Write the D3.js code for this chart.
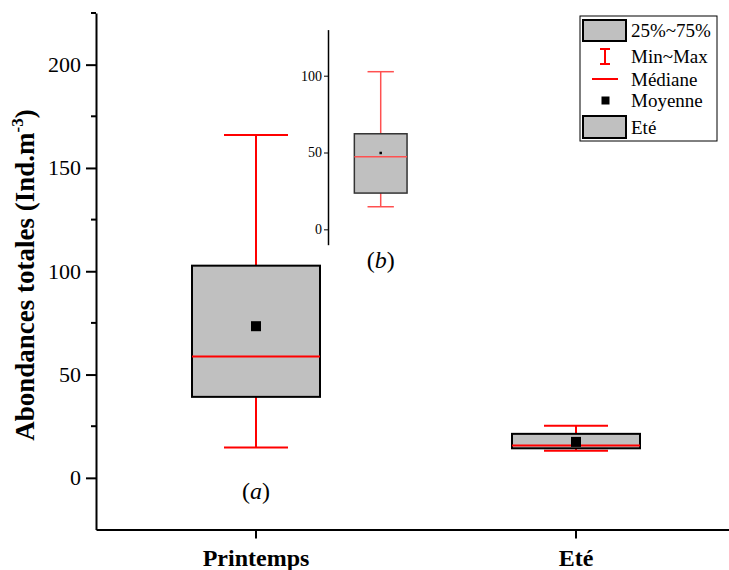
<!DOCTYPE html>
<html>
<head>
<meta charset="utf-8">
<script src="https://cdn.jsdelivr.net/npm/d3@7"></script>
<style>
  html, body { margin: 0; padding: 0; background: #fff; }
  svg { display: block; }
  svg text { font-family: "Liberation Serif", "Times New Roman", serif; }
</style>
</head>
<body>
<svg id="chart" width="729" height="570"></svg>
<script>
// Seasonal box statistics (Ind.m-3)
const categories = ["Printemps", "Eté"];
const minVals    = [14.7, 13.1];
const q1Vals     = [39.2, 14.3];
const medianVals = [58.7, 15.7];
const q3Vals     = [102.7, 21.3];
const maxVals    = [166.0, 25.2];
const meanVals   = [73.4, 17.4];

// Inset box (b)
const insetCategories = ["Eté"];
const insetMin    = [14.7];
const insetQ1     = [23.6];
const insetMedian = [47.3];
const insetQ3     = [62.2];
const insetMax    = [102.6];
const insetMean   = [49.7];

const yMajorTicks = [0, 50, 100, 150, 200];
const yMinorTicks = [25, 75, 125, 175, 225];
const insetTicks  = [0, 50, 100];

const legendLabels = ["25%~75%", "Min~Max", "Médiane", "Moyenne", "Eté"];

const svg = d3.select("#chart");
const FILL = "#c0c0c0";
const RED = "#ff0000";
const SERIF = "Liberation Serif";

// ---------- main panel ----------
const x = d3.scaleBand().domain(categories).range([96, 736]).padding(0);
const y = d3.scaleLinear().domain([-25, 225]).range([529.5, 13]);

const boxes = categories.map((c, i) => ({
  cat: c, min: minVals[i], q1: q1Vals[i], med: medianVals[i],
  q3: q3Vals[i], max: maxVals[i], mean: meanVals[i]
}));

function drawBoxes(g, data, xs, ys, opt) {
  const bw = xs.bandwidth() * opt.boxFrac;
  const cw = xs.bandwidth() * opt.capFrac;
  const cx = d => xs(d.cat) + xs.bandwidth() / 2;
  const grp = g.selectAll("g.box").data(data).join("g").attr("class", "box");
  // whiskers
  grp.append("line").attr("x1", cx).attr("x2", cx)
    .attr("y1", d => ys(d.q3)).attr("y2", d => ys(d.max))
    .attr("stroke", opt.whisker).attr("stroke-width", opt.ws);
  grp.append("line").attr("x1", cx).attr("x2", cx)
    .attr("y1", d => ys(d.q1)).attr("y2", d => ys(d.min))
    .attr("stroke", opt.whisker).attr("stroke-width", opt.ws);
  grp.append("line").attr("x1", d => cx(d) - cw / 2).attr("x2", d => cx(d) + cw / 2)
    .attr("y1", d => ys(d.max)).attr("y2", d => ys(d.max))
    .attr("stroke", opt.whisker).attr("stroke-width", opt.ws);
  grp.append("line").attr("x1", d => cx(d) - cw / 2).attr("x2", d => cx(d) + cw / 2)
    .attr("y1", d => ys(d.min)).attr("y2", d => ys(d.min))
    .attr("stroke", opt.whisker).attr("stroke-width", opt.ws);
  // interquartile box
  grp.append("rect")
    .attr("x", d => cx(d) - bw / 2).attr("width", bw)
    .attr("y", d => ys(d.q3)).attr("height", d => ys(d.q1) - ys(d.q3))
    .attr("fill", FILL).attr("stroke", opt.boxStroke).attr("stroke-width", opt.bs);
  // median
  grp.append("line").attr("x1", d => cx(d) - bw / 2).attr("x2", d => cx(d) + bw / 2)
    .attr("y1", d => ys(d.med)).attr("y2", d => ys(d.med))
    .attr("stroke", opt.whisker).attr("stroke-width", opt.ws);
  // mean
  grp.append("rect")
    .attr("x", d => cx(d) - opt.meanSize / 2).attr("y", d => ys(d.mean) - opt.meanSize / 2)
    .attr("width", opt.meanSize).attr("height", opt.meanSize).attr("fill", "#000");
}

drawBoxes(svg.append("g"), boxes, x, y, {
  boxFrac: 0.4, capFrac: 0.2, whisker: RED, ws: 2,
  boxStroke: "#000", bs: 2, meanSize: 10
});

// y axis
const yAxisG = svg.append("g").attr("transform", "translate(96,0)");
yAxisG.call(d3.axisLeft(y).tickValues(yMajorTicks).tickSize(10).tickPadding(5)
  .tickSizeOuter(0))
  .attr("font-family", SERIF)
  .call(g => g.select(".domain").attr("stroke-width", 2))
  .call(g => g.selectAll(".tick line").attr("stroke-width", 2))
  .call(g => g.selectAll(".tick text").attr("font-size", 22).attr("fill", "#000"));
yAxisG.selectAll("line.minor").data(yMinorTicks).join("line").attr("class", "minor")
  .attr("x1", -5).attr("x2", 0).attr("y1", d => y(d)).attr("y2", d => y(d))
  .attr("stroke", "#000").attr("stroke-width", 2);

// x axis
const xAxisG = svg.append("g").attr("transform", "translate(0,529.5)");
xAxisG.call(d3.axisBottom(x).tickSize(9).tickPadding(10).tickSizeOuter(0))
  .attr("font-family", SERIF)
  .call(g => g.select(".domain").attr("stroke-width", 2))
  .call(g => g.selectAll(".tick line").attr("stroke-width", 2))
  .call(g => g.selectAll(".tick text").attr("font-size", 24).attr("font-weight", "bold")
    .attr("fill", "#000"));

// y axis title
const yTitle = svg.append("text")
  .attr("transform", "translate(34,275) rotate(-90)")
  .attr("text-anchor", "middle").attr("font-size", 27).attr("font-weight", "bold");
yTitle.append("tspan").text("Abondances totales (Ind.m");
yTitle.append("tspan").attr("font-size", 17).attr("dy", -11).text("-3");
yTitle.append("tspan").attr("dy", 11).text(")");

// (a) label
const aLab = svg.append("text").attr("x", x("Printemps") + x.bandwidth() / 2).attr("y", 499)
  .attr("text-anchor", "middle").attr("font-size", 24);
aLab.append("tspan").text("(");
aLab.append("tspan").attr("font-style", "italic").text("a");
aLab.append("tspan").text(")");

// ---------- inset ----------
const xi = d3.scaleBand().domain(insetCategories).range([328, 433.4]);
const yi = d3.scaleLinear().domain([-10, 130]).range([244.7, 29.6]);
const insetData = insetCategories.map((c, i) => ({
  cat: c, min: insetMin[i], q1: insetQ1[i], med: insetMedian[i],
  q3: insetQ3[i], max: insetMax[i], mean: insetMean[i]
}));
drawBoxes(svg.append("g"), insetData, xi, yi, {
  boxFrac: 0.5, capFrac: 0.25, whisker: "#ff5050", ws: 1.5,
  boxStroke: "#333", bs: 1.5, meanSize: 2.5
});
svg.append("g").attr("transform", "translate(328,0)")
  .call(d3.axisLeft(yi).tickValues(insetTicks).tickSize(4).tickPadding(2).tickSizeOuter(0))
  .attr("font-family", SERIF)
  .call(g => g.select(".domain").attr("stroke-width", 1.5))
  .call(g => g.selectAll(".tick line").attr("stroke-width", 1))
  .call(g => g.selectAll(".tick text").attr("font-size", 14).attr("fill", "#000"));

const bLab = svg.append("text").attr("x", xi("Eté") + xi.bandwidth() / 2).attr("y", 268)
  .attr("text-anchor", "middle").attr("font-size", 24);
bLab.append("tspan").text("(");
bLab.append("tspan").attr("font-style", "italic").text("b");
bLab.append("tspan").text(")");

// ---------- legend ----------
const lg = svg.append("g").attr("transform", "translate(580,16)");
lg.append("rect").attr("width", 137).attr("height", 125)
  .attr("fill", "#fff").attr("stroke", "#000").attr("stroke-width", 1);
const rowY = [14.5, 40.5, 63, 84.5, 111];
lg.append("rect").attr("x", 3).attr("y", rowY[0] - 10.5).attr("width", 43).attr("height", 21)
  .attr("fill", FILL).attr("stroke", "#000").attr("stroke-width", 2);
lg.append("line").attr("x1", 25).attr("x2", 25).attr("y1", rowY[1] - 7.5).attr("y2", rowY[1] + 7.5)
  .attr("stroke", RED).attr("stroke-width", 2);
lg.append("line").attr("x1", 20).attr("x2", 30).attr("y1", rowY[1] - 7.5).attr("y2", rowY[1] - 7.5)
  .attr("stroke", RED).attr("stroke-width", 2);
lg.append("line").attr("x1", 20).attr("x2", 30).attr("y1", rowY[1] + 7.5).attr("y2", rowY[1] + 7.5)
  .attr("stroke", RED).attr("stroke-width", 2);
lg.append("line").attr("x1", 12).attr("x2", 38).attr("y1", rowY[2]).attr("y2", rowY[2])
  .attr("stroke", RED).attr("stroke-width", 2);
lg.append("rect").attr("x", 21.5).attr("y", rowY[3] - 4).attr("width", 8).attr("height", 8)
  .attr("fill", "#000");
lg.append("rect").attr("x", 3).attr("y", rowY[4] - 11).attr("width", 43).attr("height", 22)
  .attr("fill", FILL).attr("stroke", "#000").attr("stroke-width", 2);
lg.selectAll("text.lab").data(legendLabels).join("text").attr("class", "lab")
  .attr("x", 51).attr("y", (d, i) => rowY[i]).attr("dy", "0.35em")
  .attr("font-size", 19).text(d => d);
</script>
</body>
</html>
